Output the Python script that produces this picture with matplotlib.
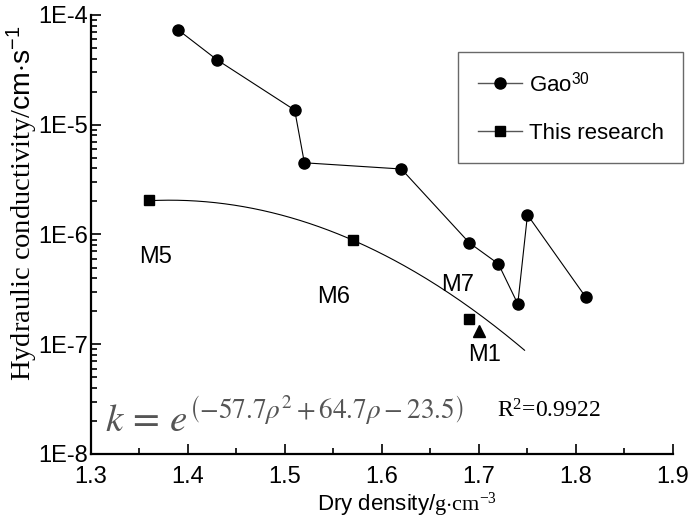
import matplotlib
matplotlib.use('Agg')
import matplotlib.pyplot as plt
import numpy as np
from matplotlib.lines import Line2D
from matplotlib.ticker import FixedLocator, LogLocator, FuncFormatter, NullFormatter

plt.rcParams['font.family'] = ['Liberation Sans', 'DejaVu Sans']
plt.rcParams['mathtext.fontset'] = 'custom'
plt.rcParams['mathtext.rm'] = 'Liberation Serif'
plt.rcParams['mathtext.sf'] = 'Liberation Sans'
plt.rcParams['mathtext.it'] = 'Liberation Serif:italic'

# Gao30 data
gao_rho = [1.39, 1.43, 1.51, 1.52, 1.62, 1.69, 1.72, 1.74, 1.75, 1.81]
gao_k = [7.3e-5, 3.9e-5, 1.36e-5, 4.5e-6, 3.95e-6, 8.4e-7, 5.4e-7, 2.33e-7, 1.51e-6, 2.69e-7]

# this research
res_rho = [1.36, 1.57, 1.69]
res_k = [2.06e-6, 8.9e-7, 1.7e-7]
res_names = ['M5', 'M6', 'M7']
m1_rho = 1.70
m1_k = 1.32e-7

# points
curve_rho = [1.364, 1.426, 1.495, 1.546, 1.570, 1.596, 1.622, 1.657, 1.691, 1.725, 1.747]
curve_logk = [-5.677, -5.713, -5.841, -5.986, -6.050, -6.159, -6.251, -6.442, -6.670, -6.898, -7.071]

fig = plt.figure(figsize=(6.94, 5.22), dpi=100)
ax = fig.add_axes([0.1311, 0.1303, 0.8386, 0.8410])

coef = np.polyfit(curve_rho, curve_logk, 2)
xx = np.linspace(res_rho[0], curve_rho[-1], 200)
ax.plot(xx, 10 ** np.polyval(coef, xx), color='black', lw=0.8)

ax.plot(gao_rho, gao_k, '-o', color='black', lw=0.8, ms=8)
ax.plot(res_rho, res_k, 's', color='black', ms=7)
ax.plot([m1_rho], [m1_k], '^', color='black', ms=8)

# point labels (offsets in pixels)
offs = [(6, -57), (-19, -57), (-12, 34)]
for r, k, name, o in zip(res_rho, res_k, res_names, offs):
    ax.annotate(name, (r, k), xytext=o, textcoords='offset pixels',
                ha='center', va='center', fontsize=17)
ax.annotate('M1', (m1_rho, m1_k), xytext=(6, -24), textcoords='offset pixels',
            ha='center', va='center', fontsize=17)

ax.set_yscale('log')
ax.set_xlim(1.3, 1.9)
ax.set_ylim(1e-8, 1e-4)

ax.xaxis.set_major_locator(FixedLocator(np.arange(1.3, 1.95, 0.1)))
ax.xaxis.set_minor_locator(FixedLocator(np.arange(1.35, 1.9, 0.1)))
ax.xaxis.set_major_formatter(FuncFormatter(lambda v, p: '%.1f' % v))
ax.yaxis.set_major_locator(LogLocator(base=10, numticks=10))
ax.yaxis.set_minor_locator(LogLocator(base=10, subs=np.arange(2, 10), numticks=50))
ax.yaxis.set_minor_formatter(NullFormatter())
ax.yaxis.set_major_formatter(FuncFormatter(lambda v, p: '1E%d' % int(round(np.log10(v)))))

ax.tick_params(which='both', direction='in', labelsize=17, width=1.2)
ax.tick_params(which='major', length=7)
ax.tick_params(which='minor', length=4)
ax.tick_params(axis='x', which='major', pad=9)
ax.tick_params(axis='y', which='major', pad=2)
for s in ['top', 'right']:
    ax.spines[s].set_visible(False)
for s in ['left', 'bottom']:
    ax.spines[s].set_linewidth(1.6)

ax.set_xlabel(r'Dry density/$\mathrm{g{\cdot}cm^{-3}}$', fontsize=16)
ax.xaxis.set_label_coords(0.543, -0.085)
ax.set_ylabel(r'Hydraulic conductivity/$\mathsf{cm{\cdot}s^{-1}}$', fontsize=20.5,
              fontfamily='Liberation Serif')
ax.yaxis.set_label_coords(-0.088, 0.572)

ax.text(1.3144, 1.58e-8, r'$k\,=\,e^{\left(-57.7\rho^2+64.7\rho-23.5\right)}$',
        fontsize=28, color='#555555', va='baseline', math_fontfamily='stix')
ax.text(1.7186, 2.13e-8, r'R$^2$=0.9922', fontsize=17, va='baseline',
        fontfamily='Liberation Serif')

handles = [Line2D([], [], color='#555555', lw=1.0, marker='o', ms=8,
                  mfc='black', mec='black'),
           Line2D([], [], color='#555555', lw=1.0, marker='s', ms=7,
                  mfc='black', mec='black')]
leg = ax.legend(handles, [r'Gao$^{\mathsf{30}}$', 'This research'],
                loc='upper left', bbox_to_anchor=(0.660, 0.9004),
                bbox_transform=fig.transFigure, borderaxespad=0, fontsize=16,
                frameon=True, fancybox=False, edgecolor='#444444', borderpad=0.88,
                handlelength=2.0, handletextpad=0.3, labelspacing=1.2)
leg.get_frame().set_linewidth(1.0)

fig.savefig('out.png', dpi=100)
